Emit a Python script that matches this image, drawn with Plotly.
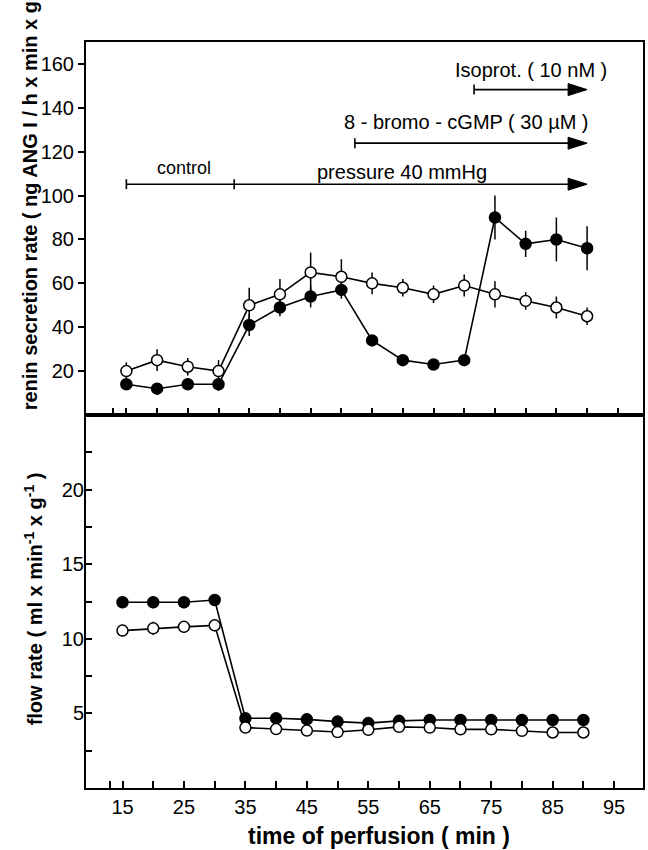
import plotly.graph_objects as go

# ---------------- data ----------------
time_min = [15, 20, 25, 30, 35, 40, 45, 50, 55, 60, 65, 70, 75, 80, 85, 90]

renin_filled = [14, 12, 14, 14, 41, 49, 54, 57, 34, 25, 23, 25, 90, 78, 80, 76]
renin_filled_err = [2, 2.5, 2, 3, 5, 4, 5, 4, 2.5, 2, 2, 2, 10, 6, 10, 10]
renin_open = [20, 25, 22, 20, 50, 55, 65, 63, 60, 58, 55, 59, 55, 52, 49, 45]
renin_open_err = [4, 5, 4, 5, 8, 7, 9, 8, 5, 4, 4, 5, 6, 4, 5, 4]

flow_filled = [12.45, 12.45, 12.45, 12.6, 4.67, 4.67, 4.6, 4.45, 4.35, 4.5, 4.56, 4.56, 4.56, 4.56, 4.56, 4.56]
flow_filled_err = [0.4, 0.4, 0.4, 0.35, 0.2, 0.2, 0.2, 0.2, 0.2, 0.2, 0.2, 0.2, 0.2, 0.2, 0.2, 0.2]
flow_open = [10.55, 10.7, 10.8, 10.9, 4.05, 3.95, 3.85, 3.75, 3.9, 4.1, 4.05, 3.93, 3.93, 3.83, 3.72, 3.72]
flow_open_err = [0.4, 0.45, 0.4, 0.4, 0.2, 0.2, 0.2, 0.2, 0.2, 0.2, 0.2, 0.2, 0.2, 0.2, 0.2, 0.2]

x_tickvals = [12.9, 15, 20, 25, 30, 35, 40, 45, 50, 55, 60, 65, 70, 75, 80, 85, 90, 95]
x_ticktext = [" ", "15", " ", "25", " ", "35", " ", "45", " ", "55", " ", "65", " ", "75", " ", "85", " ", "95"]
renin_ticks = [20, 40, 60, 80, 100, 120, 140, 160]
flow_tickvals = [2.5, 5, 7.5, 10, 12.5, 15, 17.5, 20, 22.5]
flow_ticktext = [" ", "5", " ", "10", " ", "15", " ", "20", " "]

# protocol periods (start, end) and levels in the renin panel
control_period = (15, 32.55)
pressure_period = (32.55, 90.0)
cgmp_period = (52.2, 90.0)
isoprot_period = (71.6, 90.0)
level_control = 105.2
level_cgmp = 123.9
level_iso = 148.3

FONT = "Liberation Sans, Arial, sans-serif"
BLACK = "#000000"

fig = go.Figure()


def add_series(x, y, err, filled, xa, ya):
    fig.add_trace(go.Scatter(
        x=x, y=y, xaxis=xa, yaxis=ya, mode="lines+markers",
        line=dict(color=BLACK, width=1.6),
        marker=dict(symbol="circle", size=11,
                    color=BLACK if filled else "white",
                    line=dict(color=BLACK, width=1.5)),
        error_y=dict(type="data", array=err, visible=True, color=BLACK,
                     thickness=1.5, width=0),
        showlegend=False, cliponaxis=False,
    ))


add_series(time_min, renin_filled, renin_filled_err, True, "x2", "y2")
add_series(time_min, renin_open, renin_open_err, False, "x2", "y2")
add_series(time_min, flow_filled, flow_filled_err, True, "x", "y")
add_series(time_min, flow_open, flow_open_err, False, "x", "y")

axis_common = dict(showline=True, linecolor=BLACK, linewidth=2, mirror=True,
                   showgrid=False, zeroline=False, tickcolor=BLACK,
                   tickfont=dict(family=FONT, size=20, color=BLACK))

fig.update_layout(
    width=648, height=850,
    margin=dict(l=86, r=3, t=42, b=62),
    paper_bgcolor="white", plot_bgcolor="white",
    xaxis=dict(domain=[0, 1], anchor="y", range=[9.06, 99.7],
               tickmode="array", tickvals=x_tickvals, ticktext=x_ticktext,
               tickangle=0,
               ticks="inside", ticklen=7, tickwidth=1.5, **axis_common),
    yaxis=dict(domain=[0, 0.5], anchor="x", range=[0, 25],
               tickmode="array", tickvals=flow_tickvals, ticktext=flow_ticktext,
               ticks="inside", ticklen=6, tickwidth=1.5, ticklabelstandoff=-4,
               **axis_common),
    xaxis2=dict(domain=[0, 1], anchor="y2", range=[8.43, 99.1],
                tickmode="array", tickvals=x_tickvals, showticklabels=False,
                ticks="inside", ticklen=7, tickwidth=1.5, **axis_common),
    yaxis2=dict(domain=[0.5, 1], anchor="x2", range=[0, 170],
                tickmode="array", tickvals=renin_ticks,
                ticks="outside", ticklen=6, tickwidth=1.5, **axis_common),
)

shapes = []
annotations = []

# axis break gap on the bottom x axis
shapes.append(dict(type="line", xref="x", yref="y", x0=13.15, x1=14.8, y0=0, y1=0,
                   line=dict(color="white", width=4), layer="above"))


def hline(x0, x1, y):
    shapes.append(dict(type="line", xref="x2", yref="y2", x0=x0, x1=x1, y0=y, y1=y,
                       line=dict(color=BLACK, width=1.6)))


def vtick(x, y):
    shapes.append(dict(type="line", xref="x2", yref="y2", ysizemode="pixel",
                       yanchor=y, x0=x, x1=x, y0=-5, y1=5,
                       line=dict(color=BLACK, width=1.6)))


def arrowhead(x, y):
    shapes.append(dict(type="path", xref="x2", yref="y2",
                       xsizemode="pixel", ysizemode="pixel",
                       xanchor=x, yanchor=y,
                       path="M-19,-6 L0,0 L-19,6 Z",
                       fillcolor=BLACK, line=dict(color=BLACK, width=1)))


# control + pressure
hline(control_period[0], pressure_period[1] - 0.5, level_control)
vtick(control_period[0], level_control)
vtick(control_period[1], level_control)
arrowhead(pressure_period[1], level_control)
# cGMP
hline(cgmp_period[0], cgmp_period[1] - 0.5, level_cgmp)
vtick(cgmp_period[0], level_cgmp)
arrowhead(cgmp_period[1], level_cgmp)
# Isoprot
hline(isoprot_period[0], isoprot_period[1] - 0.5, level_iso)
vtick(isoprot_period[0], level_iso)
arrowhead(isoprot_period[1], level_iso)


def label(text, x, y, size=20):
    annotations.append(dict(text=text, x=x, y=y, xref="x2", yref="y2",
                            showarrow=False, xanchor="center", yanchor="middle",
                            font=dict(family=FONT, size=size, color=BLACK)))


label("control", 24.4, 112.7, 18)
label("pressure 40 mmHg", 59.9, 110.9)
label("8 - bromo - cGMP ( 30 µM )", 70.3, 133.5)
label("Isoprot. ( 10 nM )", 80.9, 157.4)

TITLE_FONT = dict(family=FONT, size=20, color=BLACK)
annotations.append(dict(text="<b>renin secretion rate ( ng ANG I / h x min x g )</b>",
                        xref="paper", yref="paper", x=-0.1, y=0.504,
                        xanchor="center", yanchor="bottom", textangle=-90,
                        showarrow=False, font=TITLE_FONT))
annotations.append(dict(text="<b>flow rate ( ml x min<sup>-1</sup> x g<sup>-1</sup> )</b>",
                        xref="paper", yref="paper", x=-0.095, y=0.253,
                        xanchor="center", yanchor="middle", textangle=-90,
                        showarrow=False, font=TITLE_FONT))
annotations.append(dict(text="<b>time of perfusion ( min )</b>",
                        xref="paper", yref="paper", x=0.526, y=-0.0643,
                        xanchor="center", yanchor="middle",
                        showarrow=False, font=dict(family=FONT, size=23, color=BLACK)))

fig.update_layout(shapes=shapes, annotations=annotations)

fig.write_html("out.html")
